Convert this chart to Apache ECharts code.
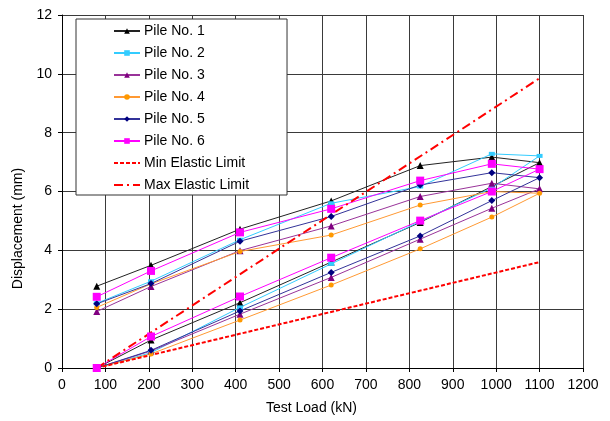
<!DOCTYPE html>
<html>
<head>
<meta charset="utf-8">
<title>Pile load test</title>
<script src="https://cdn.jsdelivr.net/npm/echarts@6/dist/echarts.min.js"></script>
<style>
html, body { margin: 0; padding: 0; background: #fff; }
#main { width: 610px; height: 421px; }
</style>
</head>
<body>
<div id="main"></div>
<script>
// load steps: loading up to 1100 kN then unloading
var loads = [80, 205, 410, 620, 825, 990, 1100, 990, 825, 620, 410, 205, 80];

var pile1 = [0, 0.95, 2.22, 3.60, 4.95, 6.17, 6.98, 7.17, 6.88, 5.68, 4.72, 3.49, 2.78];
var pile2 = [0, 0.52, 2.06, 3.54, 4.98, 6.12, 7.21, 7.28, 6.17, 5.60, 4.36, 2.95, 2.20];
var pile3 = [0, 0.58, 1.83, 3.08, 4.38, 5.43, 6.09, 6.28, 5.83, 4.83, 3.99, 2.77, 1.92];
var pile4 = [0, 0.48, 1.63, 2.82, 4.05, 5.13, 5.94, 6.00, 5.54, 4.52, 3.96, 2.86, 2.06];
var pile5 = [0, 0.60, 1.94, 3.25, 4.49, 5.69, 6.47, 6.64, 6.22, 5.15, 4.31, 2.87, 2.18];
var pile6 = [0, 1.07, 2.43, 3.75, 5.01, 6.00, 6.76, 6.94, 6.37, 5.41, 4.61, 3.30, 2.42];

// elastic limit lines (end points)
var limitLoads = [80, 1100];
var minElastic = [0, 3.6];
var maxElastic = [0, 9.85];

var pileNames = ['Pile No. 1', 'Pile No. 2', 'Pile No. 3', 'Pile No. 4', 'Pile No. 5', 'Pile No. 6'];
var limitNames = ['Min Elastic Limit', 'Max Elastic Limit'];

var font = 'Liberation Sans, Arial, sans-serif';

function pairs(xs, ys) {
	var out = [];
	for (var i = 0; i < xs.length; i++) {
		out.push([xs[i], ys[i]]);
	}
	return out;
}

function pileSeries(name, values, lineColor, markColor, symbol, size) {
	return {
		name : name,
		type : 'line',
		data : pairs(loads, values),
		symbol : symbol,
		symbolSize : size,
		showAllSymbol : true,
		lineStyle : {
			color : lineColor,
			width : 1
		},
		itemStyle : {
			color : markColor
		},
		emphasis : { disabled : true },
		animation : false
	};
}

function limitSeries(name, values, dash) {
	return {
		name : name,
		type : 'line',
		data : pairs(limitLoads, values),
		symbol : 'none',
		lineStyle : {
			color : '#ff0000',
			width : 2,
			type : dash
		},
		itemStyle : {
			color : '#ff0000'
		},
		emphasis : { disabled : true },
		animation : false
	};
}

var series = [
	pileSeries(pileNames[0], pile1, '#222222', '#000000', 'triangle', 7),
	pileSeries(pileNames[1], pile2, '#33ccff', '#33ccff', 'rect', [6, 4]),
	pileSeries(pileNames[2], pile3, '#993399', '#800080', 'triangle', 7),
	pileSeries(pileNames[3], pile4, '#ff9933', '#ff9900', 'circle', 5),
	pileSeries(pileNames[4], pile5, '#333399', '#000080', 'diamond', 7),
	pileSeries(pileNames[5], pile6, '#ff00ff', '#ff00ff', 'rect', 8),
	limitSeries(limitNames[0], minElastic, [4, 2]),
	limitSeries(limitNames[1], maxElastic, [9, 4, 2, 4])
];

// legend entries, limit lines without a marker
var legendData = [];
for (var i = 0; i < pileNames.length; i++) {
	legendData.push({ name : pileNames[i] });
}
for (var j = 0; j < limitNames.length; j++) {
	legendData.push({ name : limitNames[j], itemStyle : { opacity : 0 } });
}

var option = {
	backgroundColor : '#ffffff',
	animation : false,
	textStyle : { fontFamily : font },
	grid : {
		left : 62,
		right : 27,
		top : 15,
		bottom : 53
	},
	legend : {
		orient : 'vertical',
		left : 76,
		top : 19,
		data : legendData,
		itemWidth : 26,
		itemHeight : 7,
		itemGap : 8,
		padding : [5, 38, 3, 37],
		backgroundColor : '#ffffff',
		borderColor : '#333333',
		borderWidth : 1,
		textStyle : {
			fontFamily : font,
			fontSize : 14,
			lineHeight : 14,
			color : '#000000',
			padding : [0, 0, 0, -1]
		}
	},
	xAxis : {
		type : 'value',
		min : 0,
		max : 1200,
		interval : 100,
		name : 'Test Load (kN)',
		nameLocation : 'middle',
		nameGap : 33,
		nameTextStyle : {
			fontFamily : font,
			fontSize : 14,
			color : '#000000',
			padding : [0, 22, 0, 0]
		},
		axisLine : { lineStyle : { color : '#000000', width : 1 } },
		axisTick : { show : true, length : 4, lineStyle : { color : '#000000' } },
		axisLabel : {
			fontFamily : font,
			fontSize : 14,
			color : '#000000',
			margin : 10,
			formatter : function(v) {
				return String(v);
			}
		},
		splitLine : { show : true, lineStyle : { color : '#3a3a3a', width : 1 } }
	},
	yAxis : {
		type : 'value',
		min : 0,
		max : 12,
		interval : 2,
		name : 'Displacement (mm)',
		nameLocation : 'middle',
		nameGap : 34,
		nameTextStyle : {
			fontFamily : font,
			fontSize : 14,
			color : '#000000',
			padding : [0, 74, 0, 0]
		},
		axisLine : { show : true, lineStyle : { color : '#000000', width : 1 } },
		axisTick : { show : true, length : 4, lineStyle : { color : '#000000' } },
		axisLabel : { fontFamily : font, fontSize : 14, color : '#000000', margin : 10 },
		splitLine : { show : true, lineStyle : { color : '#3a3a3a', width : 1 } }
	},
	series : series
};

var myChart = echarts.init(document.getElementById('main'));
myChart.setOption(option);
</script>
</body>
</html>
